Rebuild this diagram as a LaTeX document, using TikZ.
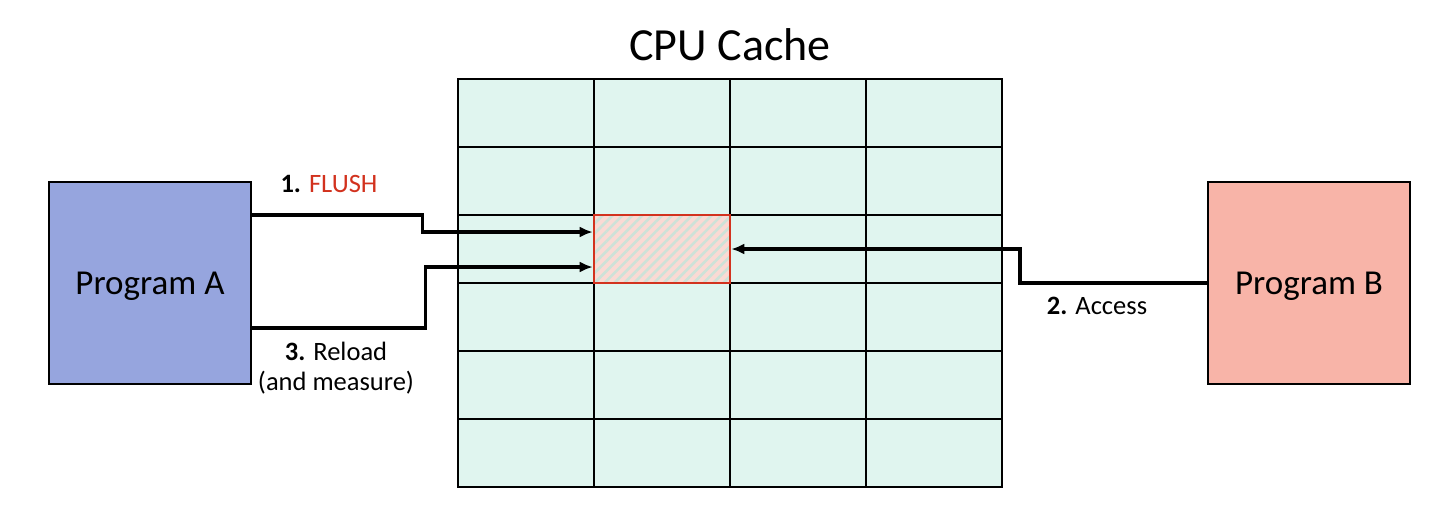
\documentclass[tikz,border=0pt]{standalone}
\usepackage{fontspec}
\setmainfont{Carlito}
\usetikzlibrary{arrows.meta,patterns.meta}

\definecolor{cachefill}{RGB}{224,245,239}
\definecolor{progafill}{RGB}{150,165,222}
\definecolor{progbfill}{RGB}{248,180,168}
\definecolor{hotred}{RGB}{210,50,30}
\definecolor{hotfill}{RGB}{250,218,212}
\definecolor{hotstripe}{RGB}{205,226,216}

\tikzset{
    progbox/.style={draw=black, line width=2.2pt, minimum width=202pt, minimum height=202pt, inner sep=0pt,
        text depth=0pt, font=\fontsize{35}{42}\selectfont},
    hotcell/.style={draw=hotred, line width=2.4pt, minimum width=136pt, minimum height=68pt, inner sep=0pt,
        preaction={fill=hotfill}, pattern={Lines[angle=45,distance=7pt,line width=2.6pt]}, pattern color=hotstripe},
    lbl/.style={inner sep=0.75pt, align=center, font=\fontsize{26.5}{30}\selectfont},
    flow/.style={line width=3.2pt, -{Latex[length=13pt,width=11pt]}},
}
\newcommand{\stepnum}[1]{\textbf{#1}}

\begin{document}
\begin{tikzpicture}[x=1pt,y=1pt,yscale=-1,xscale=1]
    \useasboundingbox (0,0) rectangle (1452,531);

    % cache grid
    \draw [line width=2.2pt, fill=cachefill] (458,79) rectangle (1002,487);
    \foreach \cx in {594,730,866} \draw [line width=2.2pt] (\cx,79) -- (\cx,487);
    \foreach \cy in {147,215,283,351,419} \draw [line width=2.2pt] (458,\cy) -- (1002,\cy);

    \node (title) at (730,45) [font=\fontsize{46}{52}\selectfont] {CPU Cache};
    \node (hot) at (662,249) [hotcell] {};

    % programs
    \node (progA) at (150,283) [progbox, fill=progafill] {Program A};
    \node (progB) at (1309,283) [progbox, fill=progbfill] {Program B};

    % flows
    \draw [flow] ([yshift=-68pt]progA.east) -- ++(170,0) |- ([yshift=-17pt]hot.west);
    \draw [flow] ([yshift=45pt]progA.east) -- ++(173,0) |- ([yshift=18pt]hot.west);
    \draw [flow] (progB.west) -- ++(-187,0) |- (hot.east);

    \node (flushlbl) at (329,184) [lbl] {\stepnum{1.} \textcolor{hotred}{FLUSH}};
    \node (accesslbl) at (1097,306) [lbl] {\stepnum{2.} Access};
    \node (reloadlbl) at (336,368) [lbl] {\stepnum{3.} Reload\\(and measure)};
\end{tikzpicture}
\end{document}
